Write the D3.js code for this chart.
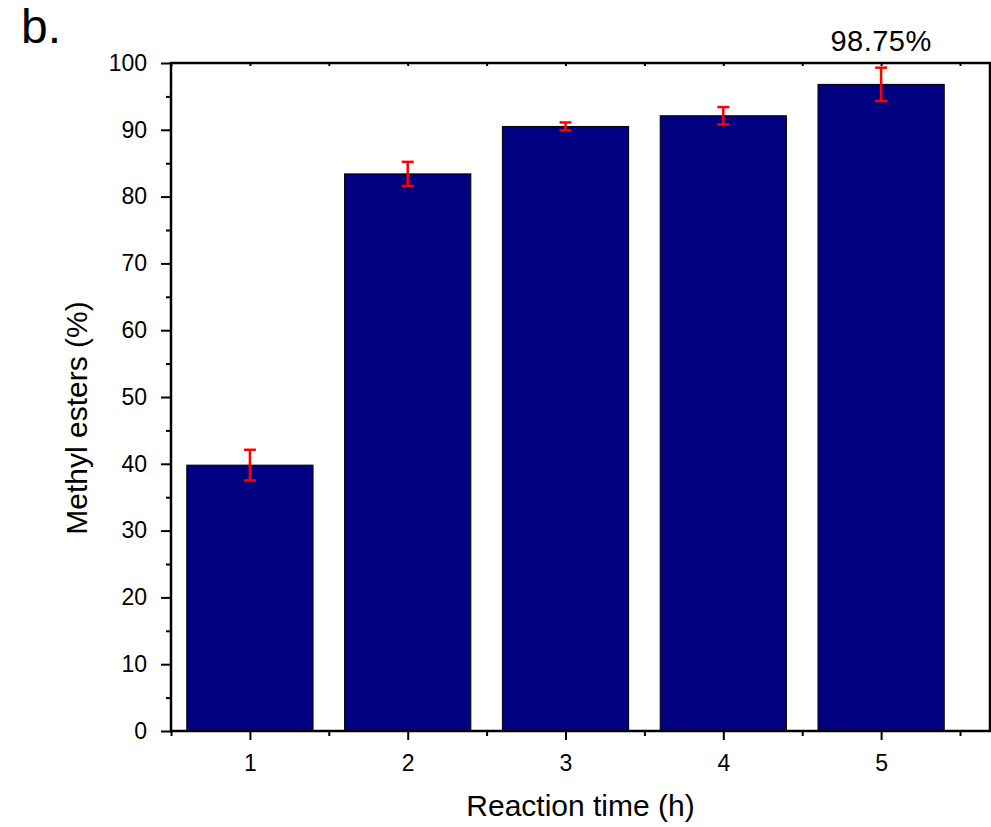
<!DOCTYPE html>
<html>
<head>
<meta charset="utf-8">
<script src="https://cdn.jsdelivr.net/npm/d3@7"></script>
<style>
  body { margin: 0; background: #fff; }
  text { font-family: "Liberation Sans", Arial, sans-serif; fill: #000; }
</style>
</head>
<body>
<svg id="chart"></svg>
<script>
const times = [1, 2, 3, 4, 5];
const esters = [39.8, 83.4, 90.5, 92.1, 96.8];
const errors = [2.3, 1.8, 0.6, 1.3, 2.5];
const yTicks = [0, 10, 20, 30, 40, 50, 60, 70, 80, 90, 100];
const topLabel = "98.75%";

const W = 991, H = 827;
const margin = { top: 63, right: 1, bottom: 96, left: 171 };
const width = W - margin.left - margin.right;
const height = H - margin.top - margin.bottom;

const svg = d3.select("#chart").attr("width", W).attr("height", H);
const g = svg.append("g").attr("transform", "translate(" + margin.left + "," + margin.top + ")");

const x = d3.scaleLinear().domain([0.5, 5.69]).range([0, width]);
const y = d3.scaleLinear().domain([0, 100]).range([height, 0]);
const barW = x(1.4) - x(0.6);

// bars
g.selectAll("rect.bar")
  .data(times)
  .enter()
  .append("rect")
  .attr("class", "bar")
  .attr("x", (d) => x(d) - barW / 2)
  .attr("y", (d, i) => y(esters[i]))
  .attr("width", barW)
  .attr("height", (d, i) => height - y(esters[i]))
  .attr("fill", "#000080")
  .attr("stroke", "#000")
  .attr("stroke-width", 1);

// error bars
const eb = g.selectAll("g.err").data(times).enter().append("g").attr("class", "err")
  .attr("stroke", "#ff0000").attr("stroke-width", 2.5);
eb.append("line")
  .attr("x1", (d) => x(d)).attr("x2", (d) => x(d))
  .attr("y1", (d, i) => y(esters[i] + errors[i]))
  .attr("y2", (d, i) => y(esters[i] - errors[i]));
eb.append("line")
  .attr("x1", (d) => x(d) - 6).attr("x2", (d) => x(d) + 6)
  .attr("y1", (d, i) => y(esters[i] + errors[i]))
  .attr("y2", (d, i) => y(esters[i] + errors[i]));
eb.append("line")
  .attr("x1", (d) => x(d) - 6).attr("x2", (d) => x(d) + 6)
  .attr("y1", (d, i) => y(esters[i] - errors[i]))
  .attr("y2", (d, i) => y(esters[i] - errors[i]));

// axes
const minorY = d3.range(5, 100, 10);
const minorX = [0.5, 1.5, 2.5, 3.5, 4.5, 5.5];

g.append("g")
  .call(d3.axisLeft(y).tickValues(minorY).tickSize(5).tickFormat(""))
  .call((a) => a.select(".domain").remove());
g.append("g")
  .attr("class", "y-axis")
  .call(d3.axisLeft(y).tickValues(yTicks).tickSize(10).tickPadding(14))
  .call((a) => a.select(".domain").remove());

g.append("g")
  .attr("transform", "translate(0," + height + ")")
  .call(d3.axisBottom(x).tickValues(minorX).tickSize(5).tickFormat(""))
  .call((a) => a.select(".domain").remove());
g.append("g")
  .attr("class", "x-axis")
  .attr("transform", "translate(0," + height + ")")
  .call(d3.axisBottom(x).tickValues(times).tickSize(9).tickPadding(15).tickFormat(d3.format("d")))
  .call((a) => a.select(".domain").remove());

// top axis ticks (small, inward)
g.append("g")
  .call(d3.axisTop(x).tickValues(times.concat(minorX)).tickSize(-3).tickFormat(""))
  .call((a) => a.select(".domain").remove());

g.selectAll(".tick line").attr("stroke", "#000").attr("stroke-width", 2);
g.selectAll(".tick text")
  .style("font-size", "23px")
  .style("font-family", "Liberation Sans, Arial, sans-serif");

// frame
g.append("rect")
  .attr("x", 0).attr("y", 0).attr("width", width).attr("height", height)
  .attr("fill", "none").attr("stroke", "#000").attr("stroke-width", 2.5);

// labels
svg.append("text")
  .attr("x", margin.left + width / 2)
  .attr("y", 816)
  .attr("text-anchor", "middle")
  .style("font-size", "30px")
  .text("Reaction time (h)");

svg.append("text")
  .attr("transform", "translate(87,418) rotate(-90)")
  .attr("text-anchor", "middle")
  .style("font-size", "30px")
  .text("Methyl esters (%)");

svg.append("text")
  .attr("x", 21).attr("y", 43)
  .style("font-size", "48px")
  .text("b.");

svg.append("text")
  .attr("x", margin.left + x(5))
  .attr("y", 51)
  .attr("text-anchor", "middle")
  .style("font-size", "29px")
  .style("letter-spacing", "0.5px")
  .text(topLabel);
</script>
</body>
</html>
